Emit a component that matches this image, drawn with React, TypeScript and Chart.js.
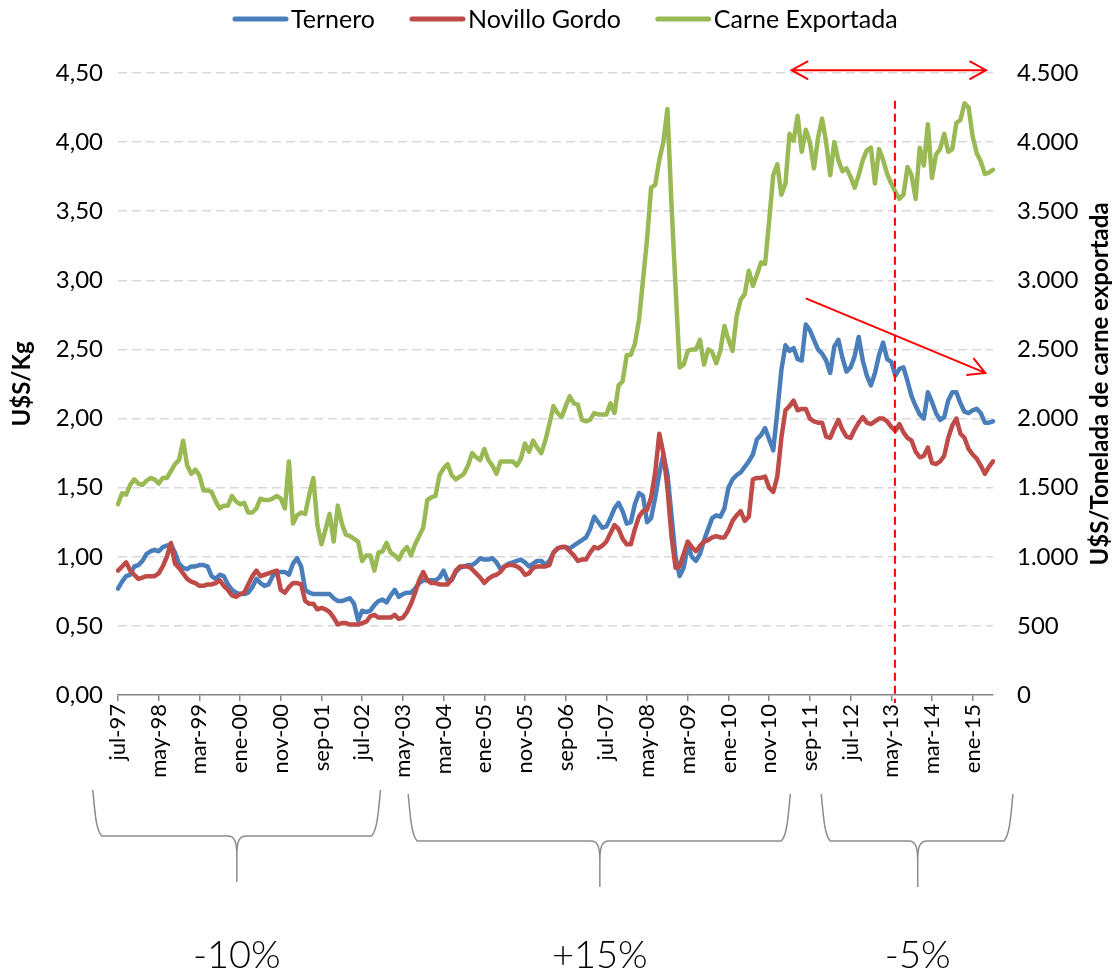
import React, { useEffect, useRef } from 'react';
import { Chart, registerables } from 'chart.js';

Chart.register(...registerables);

// ---------- data ----------
const MONTHS = ['ene', 'feb', 'mar', 'abr', 'may', 'jun', 'jul', 'ago', 'sep', 'oct', 'nov', 'dic'];
const START_YEAR = 1997;
const START_MONTH = 6; // jul
const N_MONTHS = 216; // jul-97 .. jun-15

const LABELS: string[] = [];
for (let i = 0; i < N_MONTHS; i++) {
  const m = (START_MONTH + i) % 12;
  const y = START_YEAR + Math.floor((START_MONTH + i) / 12);
  LABELS.push(`${MONTHS[m]}-${String(y % 100).padStart(2, '0')}`);
}

// U$S/Kg
const TERNERO = [
  0.77, 0.82, 0.86, 0.87, 0.93, 0.94, 0.97, 1.02, 1.04, 1.05, 1.04, 1.07,
  1.08, 1.09, 1.03, 0.95, 0.92, 0.91, 0.93, 0.93, 0.94, 0.94, 0.93, 0.86,
  0.84, 0.87, 0.86, 0.80, 0.76, 0.74, 0.73, 0.73, 0.74, 0.78, 0.84, 0.81,
  0.79, 0.80, 0.86, 0.89, 0.89, 0.89, 0.87, 0.95, 0.99, 0.93, 0.76, 0.74,
  0.73, 0.73, 0.73, 0.73, 0.73, 0.70, 0.68, 0.68, 0.69, 0.70, 0.66, 0.54,
  0.61, 0.60, 0.61, 0.65, 0.68, 0.69, 0.67, 0.72, 0.76, 0.71, 0.73, 0.74,
  0.74, 0.77, 0.81, 0.83, 0.83, 0.83, 0.83, 0.85, 0.90, 0.83, 0.83, 0.89,
  0.92, 0.93, 0.94, 0.94, 0.96, 0.99, 0.98, 0.98, 0.99, 0.96, 0.91, 0.93,
  0.95, 0.96, 0.97, 0.98, 0.96, 0.93, 0.95, 0.97, 0.97, 0.94, 0.97, 1.03,
  1.06, 1.07, 1.07, 1.06, 1.08, 1.10, 1.12, 1.14, 1.20, 1.29, 1.25, 1.21,
  1.22, 1.28, 1.35, 1.39, 1.33, 1.24, 1.25, 1.38, 1.46, 1.44, 1.25, 1.28,
  1.43, 1.60, 1.74, 1.60, 1.30, 1.00, 0.86, 0.92, 1.08, 1.00, 0.97, 1.02,
  1.12, 1.20, 1.28, 1.30, 1.29, 1.35, 1.50, 1.56, 1.59, 1.61, 1.65, 1.69,
  1.74, 1.85, 1.88, 1.93, 1.85, 1.77, 2.05, 2.35, 2.53, 2.49, 2.51, 2.43,
  2.42, 2.68, 2.64, 2.57, 2.50, 2.47, 2.42, 2.33, 2.52, 2.57, 2.44, 2.34,
  2.37, 2.45, 2.59, 2.42, 2.31, 2.24, 2.33, 2.46, 2.55, 2.43, 2.41, 2.31,
  2.36, 2.37, 2.27, 2.16, 2.09, 2.03, 2.00, 2.19, 2.12, 2.04, 1.99, 2.01,
  2.13, 2.19, 2.19, 2.11, 2.05, 2.04, 2.06, 2.07, 2.04, 1.97, 1.97, 1.98,
];

const NOVILLO = [
  0.90, 0.93, 0.96, 0.90, 0.87, 0.84, 0.85, 0.86, 0.86, 0.86, 0.88, 0.93,
  1.00, 1.10, 0.95, 0.92, 0.88, 0.84, 0.82, 0.81, 0.79, 0.79, 0.80, 0.80,
  0.81, 0.83, 0.79, 0.76, 0.72, 0.71, 0.73, 0.74, 0.80, 0.86, 0.90, 0.86,
  0.87, 0.88, 0.89, 0.90, 0.76, 0.74, 0.78, 0.81, 0.81, 0.80, 0.68, 0.66,
  0.66, 0.62, 0.63, 0.62, 0.60, 0.56, 0.51, 0.52, 0.52, 0.51, 0.51, 0.51,
  0.52, 0.53, 0.57, 0.58, 0.56, 0.56, 0.56, 0.56, 0.58, 0.55, 0.56, 0.60,
  0.66, 0.74, 0.83, 0.89, 0.83, 0.81, 0.81, 0.80, 0.80, 0.80, 0.84, 0.90,
  0.93, 0.93, 0.93, 0.91, 0.88, 0.85, 0.81, 0.84, 0.86, 0.87, 0.89, 0.93,
  0.94, 0.94, 0.93, 0.91, 0.87, 0.88, 0.92, 0.93, 0.93, 0.93, 0.94, 1.03,
  1.06, 1.07, 1.07, 1.04, 1.01, 0.97, 0.98, 0.98, 1.03, 1.07, 1.06, 1.08,
  1.11, 1.17, 1.23, 1.20, 1.13, 1.09, 1.09, 1.20, 1.29, 1.33, 1.34, 1.43,
  1.61, 1.89, 1.75, 1.50, 1.15, 0.92, 0.93, 1.02, 1.11, 1.07, 1.04, 1.08,
  1.11, 1.12, 1.14, 1.15, 1.14, 1.14, 1.19, 1.26, 1.30, 1.33, 1.26, 1.29,
  1.56, 1.57, 1.57, 1.58, 1.50, 1.47, 1.58, 1.86, 2.06, 2.09, 2.13, 2.06,
  2.07, 2.07, 2.00, 1.98, 1.97, 1.97, 1.87, 1.86, 1.93, 1.99, 1.92, 1.87,
  1.86, 1.92, 1.97, 2.01, 1.97, 1.96, 1.98, 2.00, 2.00, 1.98, 1.94, 1.91,
  1.96, 1.90, 1.86, 1.84, 1.76, 1.72, 1.73, 1.79, 1.68, 1.67, 1.69, 1.73,
  1.86, 1.95, 2.00, 1.89, 1.86, 1.78, 1.74, 1.71, 1.66, 1.60, 1.65, 1.69,
];

// U$S/Tonelada
const CARNE = [
  1380, 1460, 1450, 1520, 1560, 1530, 1520, 1550, 1570, 1560, 1530, 1570,
  1570, 1620, 1670, 1700, 1840, 1660, 1600, 1630, 1590, 1480, 1480, 1470,
  1400, 1350, 1370, 1370, 1440, 1400, 1380, 1390, 1320, 1320, 1350, 1420,
  1410, 1410, 1420, 1440, 1420, 1350, 1690, 1240, 1300, 1320, 1310, 1450,
  1570, 1230, 1090, 1200, 1310, 1110, 1370, 1240, 1160, 1150, 1130, 1110,
  970, 1010, 1010, 900, 1030, 1040, 1100, 1030, 1010, 980, 1040, 1070,
  1010, 1090, 1150, 1210, 1410, 1430, 1440, 1590, 1640, 1670, 1590, 1560,
  1580, 1600, 1660, 1750, 1720, 1700, 1780, 1700, 1660, 1600, 1690, 1690,
  1690, 1690, 1660, 1710, 1820, 1760, 1840, 1790, 1750, 1840, 1960, 2090,
  2040, 2010, 2090, 2160, 2110, 2100, 1990, 1980, 1990, 2040, 2030, 2030,
  2030, 2110, 2040, 2240, 2270, 2460, 2460, 2540, 2710, 3000, 3300, 3670,
  3690, 3870, 4000, 4240, 3550, 2950, 2370, 2390, 2490, 2500, 2500, 2570,
  2390, 2500, 2480, 2400, 2490, 2670, 2570, 2490, 2740, 2860, 2900, 3070,
  2960, 3040, 3130, 3120, 3430, 3760, 3840, 3620, 3700, 4060, 4010, 4190,
  3930, 4090, 4000, 3810, 4030, 4170, 4000, 3760, 4000, 3870, 3790, 3810,
  3750, 3670, 3760, 3870, 3940, 3960, 3700, 3950, 3870, 3770, 3700, 3640,
  3590, 3620, 3820, 3760, 3590, 3960, 3830, 4130, 3740, 3910, 3950, 4060,
  3930, 3950, 4140, 4160, 4280, 4250, 4040, 3920, 3860, 3770, 3780, 3800,
];

const SERIES_NAMES = ['Ternero', 'Novillo Gordo', 'Carne Exportada'];
const LEFT_TITLE = 'U$S/Kg';
const RIGHT_TITLE = 'U$S/Tonelada de carne exportada';

// periods (in month-index units on the x scale) and their variation
const PERIOD_START = [-6.2, 71.3, 172.8];
const PERIOD_END = [64.5, 165.2, 219.9];
const PERIOD_TIP = [29.2, 118.4, 196.5];
const PERIOD_LABELS = ['-10%', '+15%', '-5%'];

// annotation anchors (month index, value)
const RANGE_ARROW = { from: 165.5, to: 213.3, value: 4.52 };
const TREND_ARROW = { x0: 169, y0: 2.87, x1: 213.1, y1: 2.33 };
const CUT_LINE = { x: 190.9, top: 4.3 };

// ---------- style ----------
const BLUE = '#4A7EBB';
const RED = '#BE4B48';
const GREEN = '#98B954';
const AXIS = '#868686';
const GRID = '#D9D9D9';
const FONT = 'Lato, "Open Sans", sans-serif';

function fmtLeft(v: number) {
  return v.toFixed(2).replace('.', ',');
}
function fmtRight(v: number) {
  if (v >= 1000) {
    return `${Math.floor(v / 1000)}.${String(v % 1000).padStart(3, '0')}`;
  }
  return String(v);
}

function chevron(ctx: CanvasRenderingContext2D, tx: number, ty: number, angle: number, len: number, spread: number) {
  ctx.beginPath();
  ctx.moveTo(tx + Math.cos(angle + Math.PI - spread) * len, ty + Math.sin(angle + Math.PI - spread) * len);
  ctx.lineTo(tx, ty);
  ctx.lineTo(tx + Math.cos(angle + Math.PI + spread) * len, ty + Math.sin(angle + Math.PI + spread) * len);
  ctx.stroke();
}

const decorations = {
  id: 'decorations',
  afterDraw(chart: any) {
    const { ctx, chartArea } = chart;
    const xs = chart.scales.x;
    const yl = chart.scales.y;
    const midY = (chartArea.top + chartArea.bottom) / 2;
    ctx.save();

    // legend
    const colors = [BLUE, RED, GREEN];
    ctx.font = `25px ${FONT}`;
    ctx.textBaseline = 'middle';
    ctx.textAlign = 'left';
    let lx = 233;
    for (let i = 0; i < SERIES_NAMES.length; i++) {
      ctx.strokeStyle = colors[i];
      ctx.lineWidth = 5;
      ctx.lineCap = 'round';
      ctx.beginPath();
      ctx.moveTo(lx + 2, 19);
      ctx.lineTo(lx + 53, 19);
      ctx.stroke();
      ctx.fillStyle = '#000';
      ctx.fillText(SERIES_NAMES[i], lx + 58, 20);
      lx += 58 + ctx.measureText(SERIES_NAMES[i]).width + 35;
    }

    // axis titles
    ctx.font = `bold 24px ${FONT}`;
    ctx.textAlign = 'center';
    ctx.fillStyle = '#000';
    ctx.save();
    ctx.translate(22, midY);
    ctx.rotate(-Math.PI / 2);
    ctx.fillText(LEFT_TITLE, 0, 0);
    ctx.restore();
    ctx.save();
    ctx.translate(1100, midY);
    ctx.rotate(-Math.PI / 2);
    ctx.fillText(RIGHT_TITLE, 0, 0);
    ctx.restore();

    // red double arrow
    ctx.strokeStyle = '#FF0000';
    ctx.lineWidth = 2;
    ctx.lineCap = 'butt';
    const ay = yl.getPixelForValue(RANGE_ARROW.value);
    const ax0 = xs.getPixelForValue(RANGE_ARROW.from);
    const ax1 = xs.getPixelForValue(RANGE_ARROW.to);
    ctx.beginPath();
    ctx.moveTo(ax0, ay);
    ctx.lineTo(ax1, ay);
    ctx.stroke();
    chevron(ctx, ax1, ay, 0, 19, 0.5);
    chevron(ctx, ax0, ay, Math.PI, 19, 0.5);

    // trend arrow
    const tx0 = xs.getPixelForValue(TREND_ARROW.x0);
    const ty0 = yl.getPixelForValue(TREND_ARROW.y0);
    const tx1 = xs.getPixelForValue(TREND_ARROW.x1);
    const ty1 = yl.getPixelForValue(TREND_ARROW.y1);
    ctx.beginPath();
    ctx.moveTo(tx0, ty0);
    ctx.lineTo(tx1, ty1);
    ctx.stroke();
    chevron(ctx, tx1, ty1, Math.atan2(ty1 - ty0, tx1 - tx0), 19, 0.5);

    // dashed vertical line
    const cx = xs.getPixelForValue(CUT_LINE.x);
    ctx.setLineDash([8, 5]);
    ctx.beginPath();
    ctx.moveTo(cx, yl.getPixelForValue(CUT_LINE.top));
    ctx.lineTo(cx, chartArea.bottom + 8);
    ctx.stroke();
    ctx.setLineDash([]);

    // braces + period variation
    ctx.strokeStyle = '#8C8C8C';
    ctx.lineWidth = 1.5;
    for (let i = 0; i < PERIOD_LABELS.length; i++) {
      const x1 = xs.getPixelForValue(PERIOD_START[i]);
      const x2 = xs.getPixelForValue(PERIOD_END[i]);
      const xc = xs.getPixelForValue(PERIOD_TIP[i]);
      const top = i === 0 ? 790 : 794;
      const mid = i === 0 ? 836 : 841;
      const tip = i === 0 ? 882 : 887;
      ctx.beginPath();
      ctx.moveTo(x1, top);
      ctx.bezierCurveTo(x1 + 2, top + 20, x1 + 3, mid - 6, x1 + 9, mid);
      ctx.lineTo(xc - 9, mid);
      ctx.bezierCurveTo(xc - 2, mid, xc, mid + 6, xc, mid + 20);
      ctx.lineTo(xc, tip);
      ctx.moveTo(xc, mid + 20);
      ctx.bezierCurveTo(xc, mid + 6, xc + 2, mid, xc + 9, mid);
      ctx.lineTo(x2 - 9, mid);
      ctx.bezierCurveTo(x2 - 3, mid - 6, x2 - 2, top + 20, x2, top);
      ctx.stroke();

      ctx.font = `300 38px ${FONT}`;
      ctx.fillStyle = '#000';
      ctx.textAlign = 'center';
      ctx.textBaseline = 'alphabetic';
      ctx.fillText(PERIOD_LABELS[i], xc, 968);
    }

    ctx.restore();
  },
};

export default function App() {
  const ref = useRef<HTMLCanvasElement | null>(null);

  useEffect(() => {
    if (!ref.current) return;
    Chart.defaults.font.family = FONT;
    Chart.defaults.color = '#000';
    const lineStyle = {
      borderWidth: 4.5,
      pointRadius: 0,
      tension: 0,
      borderJoinStyle: 'round',
      borderCapStyle: 'round',
    };
    const chart = new Chart(ref.current, {
      type: 'line',
      data: {
        labels: LABELS,
        datasets: [
          { ...lineStyle, label: SERIES_NAMES[0], data: TERNERO, borderColor: BLUE, backgroundColor: BLUE, yAxisID: 'y', order: 2 },
          { ...lineStyle, label: SERIES_NAMES[1], data: NOVILLO, borderColor: RED, backgroundColor: RED, yAxisID: 'y', order: 1 },
          { ...lineStyle, label: SERIES_NAMES[2], data: CARNE, borderColor: GREEN, backgroundColor: GREEN, yAxisID: 'y1', order: 0 },
        ],
      },
      options: {
        responsive: false,
        animation: false,
        devicePixelRatio: 1,
        layout: { padding: { top: 73, left: 0, right: 0, bottom: 0 } },
        plugins: {
          legend: { display: false },
          tooltip: { enabled: false },
        },
        scales: {
          x: {
            type: 'category',
            offset: false,
            afterFit: (s: any) => {
              s.height = 277;
            },
            border: { display: true, color: AXIS, width: 1.5 },
            grid: {
              drawOnChartArea: false,
              drawTicks: true,
              tickLength: 6,
              lineWidth: 1.5,
              color: (c: any) => (c.index % 10 === 0 ? AXIS : 'rgba(0,0,0,0)'),
            },
            ticks: {
              autoSkip: false,
              maxRotation: 90,
              minRotation: 90,
              padding: 3,
              color: '#000',
              font: { size: 22, family: FONT },
              callback: function (this: any, val: any, index: number) {
                return index % 10 === 0 ? this.getLabelForValue(val) : '';
              },
            },
          },
          y: {
            type: 'linear',
            position: 'left',
            min: 0,
            max: 4.5,
            afterFit: (s: any) => {
              s.width = 118;
            },
            border: { display: false, dash: [9, 5] },
            grid: {
              drawTicks: false,
              lineWidth: 1.5,
              color: (c: any) => (c.tick && c.tick.value === 0 ? 'rgba(0,0,0,0)' : GRID),
            },
            ticks: {
              stepSize: 0.5,
              padding: 15,
              color: '#000',
              font: { size: 24, family: FONT },
              callback: (v: any) => fmtLeft(Number(v)),
            },
          },
          y1: {
            type: 'linear',
            position: 'right',
            min: 0,
            max: 4500,
            afterFit: (s: any) => {
              s.width = 121;
            },
            border: { display: false },
            grid: { display: false, drawOnChartArea: false },
            ticks: {
              stepSize: 500,
              padding: 16,
              color: '#000',
              font: { size: 24, family: FONT },
              callback: (v: any) => fmtRight(Number(v)),
            },
          },
        },
      },
      plugins: [decorations],
    } as any);
    return () => chart.destroy();
  }, []);

  return (
    <div style={{ position: 'absolute', left: 0, top: 0, width: 1114, height: 972, background: '#fff' }}>
      <canvas ref={ref} width={1114} height={972} style={{ display: 'block' }} />
    </div>
  );
}
